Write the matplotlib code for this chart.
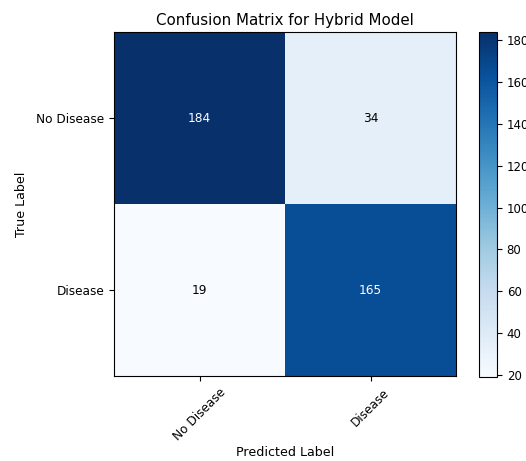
import numpy as np
import matplotlib
matplotlib.use('Agg')
import matplotlib.pyplot as plt

# Confusion matrix counts (rows: true, cols: predicted)
class_names = ['No Disease', 'Disease']
row_no_disease = [184, 34]
row_disease = [19, 165]
colorbar_ticks = [20, 40, 60, 80, 100, 120, 140, 160, 180]

cm = np.array([row_no_disease, row_disease])

fig = plt.figure(figsize=(5.26, 4.61), dpi=100)
ax = fig.add_axes([114 / 526, 1 - 376 / 461, 342 / 526, 344 / 461])
cax = fig.add_axes([479 / 526, 1 - 377 / 461, 18 / 526, 345 / 461])

im = ax.imshow(cm, interpolation='nearest', cmap=plt.cm.Blues, aspect='auto')
cbar = fig.colorbar(im, cax=cax, ticks=colorbar_ticks)
cbar.ax.tick_params(labelsize=8.5)

ax.set_title('Confusion Matrix for Hybrid Model', fontsize=10.8, pad=5)
ax.set_xticks(np.arange(len(class_names)))
ax.set_xticklabels(class_names, rotation=45, fontsize=8.7)
ax.set_yticks(np.arange(len(class_names)))
ax.set_yticklabels(class_names, fontsize=8.7)
ax.set_xlabel('Predicted Label', fontsize=9.1, labelpad=2)
ax.set_ylabel('True Label', fontsize=9.1, labelpad=6)

# Annotate each cell, white text on dark cells
thresh = cm.max() / 2.
for i in range(cm.shape[0]):
    for j in range(cm.shape[1]):
        ax.text(j, i, format(cm[i, j], 'd'), ha='center', va='center',
                fontsize=8.7, color='white' if cm[i, j] > thresh else 'black')

fig.savefig('out.png', dpi=100)
